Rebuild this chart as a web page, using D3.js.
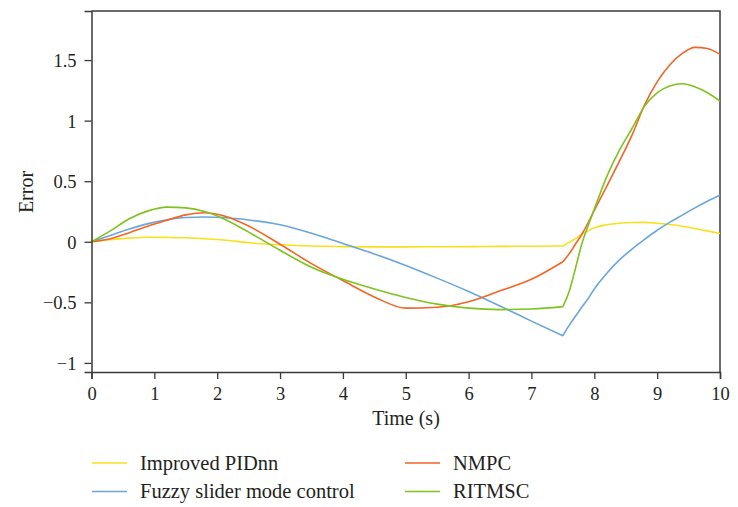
<!DOCTYPE html>
<html>
<head>
<meta charset="utf-8">
<script src="https://cdn.jsdelivr.net/npm/d3@7"></script>
<style>
  html, body { margin: 0; padding: 0; background: #fff; }
  svg { display: block; }
  svg text { font-family: "Liberation Serif", "Times New Roman", serif !important; fill: #231f20; }
</style>
</head>
<body>
<svg id="chart" width="738" height="507"></svg>
<script>
// Sample times (s) shared by all controllers
const time = [0, 0.3, 0.6, 0.9, 1.2, 1.5, 1.8, 2.1, 2.5, 3, 3.5, 4, 4.5, 5, 5.5, 6, 6.5, 7,
  7.5, 7.6, 7.7, 7.8, 7.9, 8, 8.2, 8.4, 8.6, 8.8, 9, 9.2, 9.4, 9.6, 9.8, 10];
// Instant at which the disturbance switches
const switchTime = 7.5;

// Tracking error of each controller
const pidnn = [0, 0.018, 0.03, 0.037, 0.036, 0.033, 0.025, 0.015, -0.008, -0.025, -0.035, -0.04,
  -0.042, -0.042, -0.041, -0.04, -0.038, -0.037,
  -0.035, -0.005, 0.025, 0.06, 0.09, 0.115, 0.14, 0.153, 0.159, 0.16, 0.153, 0.142, 0.128, 0.11, 0.09, 0.068];
const fuzzy = [0, 0.052, 0.105, 0.15, 0.182, 0.2, 0.205, 0.2, 0.18, 0.14, 0.07, -0.015,
  -0.1, -0.195, -0.3, -0.41, -0.53, -0.655,
  -0.775, -0.69, -0.615, -0.54, -0.47, -0.39, -0.26, -0.15, -0.06, 0.02, 0.095, 0.16, 0.22, 0.28, 0.335, 0.385];
const nmpc = [0, 0.025, 0.075, 0.13, 0.178, 0.222, 0.24, 0.215, 0.13, -0.02, -0.18, -0.32,
  -0.455, -0.548, -0.54, -0.495, -0.405, -0.31,
  -0.165, -0.1, -0.02, 0.06, 0.155, 0.26, 0.46, 0.665, 0.88, 1.13, 1.32, 1.46, 1.555, 1.605, 1.595, 1.547];
const ritmsc = [0, 0.09, 0.19, 0.255, 0.286, 0.28, 0.25, 0.19, 0.08, -0.07, -0.21, -0.31,
  -0.39, -0.46, -0.515, -0.548, -0.56, -0.555,
  -0.535, -0.41, -0.22, -0.02, 0.13, 0.27, 0.54, 0.756, 0.935, 1.12, 1.23, 1.285, 1.305, 1.28, 1.23, 1.161];

const seriesNames = ["Improved PIDnn", "Fuzzy slider mode control", "NMPC", "RITMSC"];
const seriesColors = ["#f7e11e", "#6aa6dc", "#f26526", "#7dc41f"];
const seriesValues = [pidnn, fuzzy, nmpc, ritmsc];

const xTicks = [0, 1, 2, 3, 4, 5, 6, 7, 8, 9, 10];
const yTicks = [-1, -0.5, 0, 0.5, 1, 1.5];

const svg = d3.select("#chart");
const plotLeft = 91.5, plotRight = 720, plotTop = 11, plotBottom = 372;

const x = d3.scaleLinear().domain([0, 10]).range([plotLeft, plotRight]);
const y = d3.scaleLinear().domain([-1.075, 1.905]).range([plotBottom, plotTop]);

const axisColor = "#3a3a3a";
const fmt = v => (v < 0 ? "\u2212" : "") + Math.abs(v);

// Frame: top and right edges
svg.append("path")
  .attr("d", `M${plotLeft},${plotTop}H${plotRight}V${plotBottom}`)
  .attr("fill", "none").attr("stroke", axisColor).attr("stroke-width", 1.5);

// Series lines, drawn as two smooth pieces joined at the switch instant
const line = d3.line()
  .x(d => x(d.t))
  .y(d => y(d.v))
  .curve(d3.curveMonotoneX);

const plot = svg.append("g");
seriesValues.forEach((vals, k) => {
  const pts = vals.map((v, i) => ({ t: time[i], v }));
  const before = pts.filter(p => p.t <= switchTime);
  const after = pts.filter(p => p.t >= switchTime);
  const d = line(before) + line(after).replace(/^M/, "L");
  plot.append("path")
    .attr("d", d)
    .attr("fill", "none")
    .attr("stroke", seriesColors[k])
    .attr("stroke-width", 1.6)
    .attr("stroke-linejoin", "round");
});

// Bottom axis
const xAxis = svg.append("g")
  .attr("transform", `translate(0,${plotBottom})`)
  .call(d3.axisBottom(x).tickValues(xTicks).tickFormat(d3.format("d")).tickSize(7).tickPadding(8));
// Left axis
const yAxis = svg.append("g")
  .attr("transform", `translate(${plotLeft},0)`)
  .call(d3.axisLeft(y).tickValues(yTicks).tickFormat(fmt).tickSize(7).tickPadding(8));

[xAxis, yAxis].forEach(g => {
  g.attr("font-family", null);
  g.select(".domain").attr("stroke", axisColor).attr("stroke-width", 1.5);
  g.selectAll(".tick line").attr("stroke", axisColor).attr("stroke-width", 1.3);
  g.selectAll(".tick text")
    .attr("font-size", 18.5)
    .attr("fill", "#231f20");
});
yAxis.selectAll(".tick text").attr("dy", "0.35em");

// Axis titles
svg.append("text")
  .attr("x", 406).attr("y", 425)
  .attr("text-anchor", "middle")
  .attr("font-size", 20)
  .text("Time (s)");

svg.append("text")
  .attr("transform", "translate(33,192) rotate(-90)")
  .attr("text-anchor", "middle")
  .attr("font-size", 20)
  .text("Error");

// Legend: two columns
const legendPos = [
  { lx: 92, ty: 463 },
  { lx: 92, ty: 491.5 },
  { lx: 405, ty: 463 },
  { lx: 405, ty: 491.5 }
];
seriesNames.forEach((name, k) => {
  const p = legendPos[k];
  svg.append("line")
    .attr("x1", p.lx).attr("x2", p.lx + 35)
    .attr("y1", p.ty).attr("y2", p.ty)
    .attr("stroke", seriesColors[k]).attr("stroke-width", 1.6);
  svg.append("text")
    .attr("x", p.lx + 48).attr("y", p.ty + 6.5)
    .attr("font-size", 20.5)
    .text(name);
});
</script>
</body>
</html>
